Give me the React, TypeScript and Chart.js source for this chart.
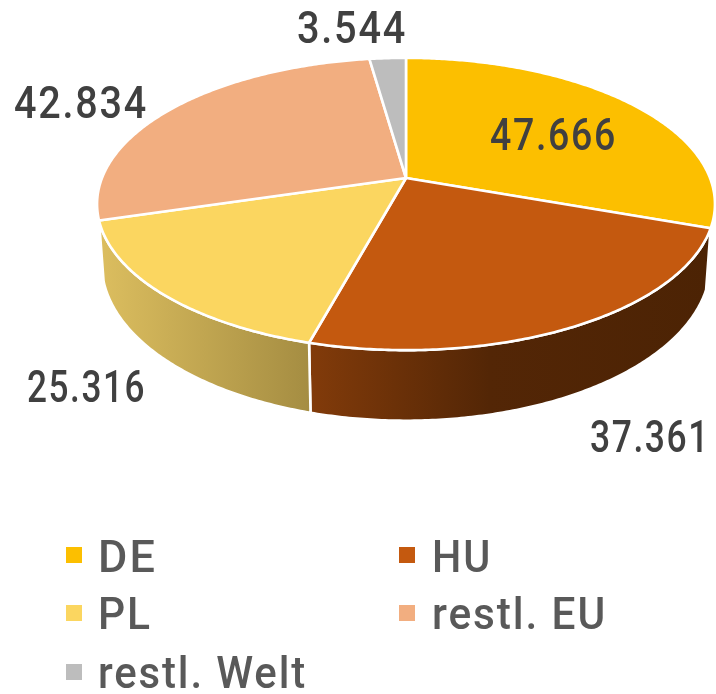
import React, { useEffect, useRef } from "react";
import { Chart, registerables } from "chart.js";

Chart.register(...registerables);

const categories = ["DE", "HU", "PL", "restl. EU", "restl. Welt"];
const values = [47666, 37361, 25316, 42834, 3544];
const valueLabels = ["47.666", "37.361", "25.316", "42.834", "3.544"];
const topColors = ["#FCBF00", "#C4590F", "#FBD660", "#F2AE80", "#BDBDBD"];
const sideStops: Record<number, [number, string][]> = {
  1: [[0, "#823B0A"], [0.45, "#532606"], [1, "#4C2304"]],
  2: [[0, "#DCBE5F"], [1, "#A58D42"]],
};

// Layout of the texts: [left, right, baseline]
const labelBoxes: [number, number, number][] = [
  [490, 617, 150],
  [590, 710, 452],
  [27, 146, 402],
  [14, 148, 118],
  [297, 407, 43],
];
// Legend: [marker x, marker y, text x, text width, baseline]
const legendBoxes: [number, number, number, number, number][] = [
  [66, 547, 98, 59, 572],
  [399, 547, 432, 60, 572],
  [66, 605, 98, 54, 629],
  [399, 605, 432, 175, 629],
  [66, 664, 98, 209, 688],
];

// Perspective view of the pie
const VIEW = { x0: 406, y0: 178, A: 304, B: 141.5, a: 0.178, depth: 58, shrink: 0.985 };

const project = (angle: number, lower = false) => {
  const u = Math.cos(angle);
  const v = Math.sin(angle);
  const w = 1 - VIEW.a * v;
  const x = (VIEW.A * u) / w;
  const y = VIEW.y0 + (VIEW.B * v) / w;
  if (!lower) return { x: VIEW.x0 + x, y };
  return { x: VIEW.x0 + x * VIEW.shrink, y: y + VIEW.depth / w };
};

const rim = (start: number, end: number, lower = false) => {
  const n = Math.max(2, Math.ceil((end - start) / 0.01));
  const pts: { x: number; y: number }[] = [];
  for (let i = 0; i <= n; i++) pts.push(project(start + ((end - start) * i) / n, lower));
  return pts;
};

const pie3d = {
  id: "pie3d",
  beforeDatasetsDraw(chart: any) {
    const ctx: CanvasRenderingContext2D = chart.ctx;
    const arcs = chart.getDatasetMeta(0).data;
    ctx.save();
    ctx.lineJoin = "round";
    ctx.lineWidth = 2.6;
    ctx.strokeStyle = "#FFFFFF";

    // outer walls of the slices that face the viewer
    arcs.forEach((arc: any, i: number) => {
      const { startAngle, endAngle } = arc;
      if (Math.sin((startAngle + endAngle) / 2) <= 0) return;
      const top = rim(startAngle, endAngle);
      const low = rim(startAngle, endAngle, true);
      const xs = top.map((p) => p.x);
      const g = ctx.createLinearGradient(Math.min(...xs), 0, Math.max(...xs), 0);
      (sideStops[i] || [[0, topColors[i]], [1, topColors[i]]]).forEach(([o, c]) => g.addColorStop(o as number, c as string));
      ctx.beginPath();
      top.forEach((p, k) => (k ? ctx.lineTo(p.x, p.y) : ctx.moveTo(p.x, p.y)));
      low.reverse().forEach((p) => ctx.lineTo(p.x, p.y));
      ctx.closePath();
      ctx.fillStyle = g;
      ctx.fill();
      ctx.stroke();
    });

    // top surface
    arcs.forEach((arc: any, i: number) => {
      const pts = rim(arc.startAngle, arc.endAngle);
      ctx.beginPath();
      ctx.moveTo(VIEW.x0, VIEW.y0);
      pts.forEach((p) => ctx.lineTo(p.x, p.y));
      ctx.closePath();
      ctx.fillStyle = topColors[i];
      ctx.fill();
      ctx.stroke();
    });
    ctx.restore();
    return false;
  },
  afterDraw(chart: any) {
    const ctx: CanvasRenderingContext2D = chart.ctx;
    ctx.save();
    ctx.textAlign = "left";
    ctx.textBaseline = "alphabetic";
    ctx.font = '500 45px Roboto, sans-serif';
    (ctx as any).letterSpacing = "2px";
    ctx.fillStyle = "#404040";
    valueLabels.forEach((t, i) => {
      const [l, r, b] = labelBoxes[i];
      ctx.fillText(t, l, b, r - l);
    });
    categories.forEach((t, i) => {
      const [mx, my, tx, tw, b] = legendBoxes[i];
      ctx.fillStyle = topColors[i];
      ctx.fillRect(mx, my, 16, 16);
      ctx.fillStyle = "#595959";
      ctx.fillText(t, tx, b, tw);
    });
    ctx.restore();
  },
};

export default function App() {
  const ref = useRef<HTMLCanvasElement>(null);
  useEffect(() => {
    const chart = new Chart(ref.current!, {
      type: "pie",
      data: {
        labels: categories,
        datasets: [{ data: values, backgroundColor: topColors }],
      },
      options: {
        animation: false,
        responsive: false,
        plugins: { legend: { display: false }, tooltip: { enabled: false } },
      },
      plugins: [pie3d],
    } as any);
    return () => chart.destroy();
  }, []);
  return (
    <div style={{ position: "fixed", left: 0, top: 0, width: 716, height: 694, background: "#fff" }}>
      <canvas ref={ref} width={716} height={694} style={{ display: "block" }} />
    </div>
  );
}
